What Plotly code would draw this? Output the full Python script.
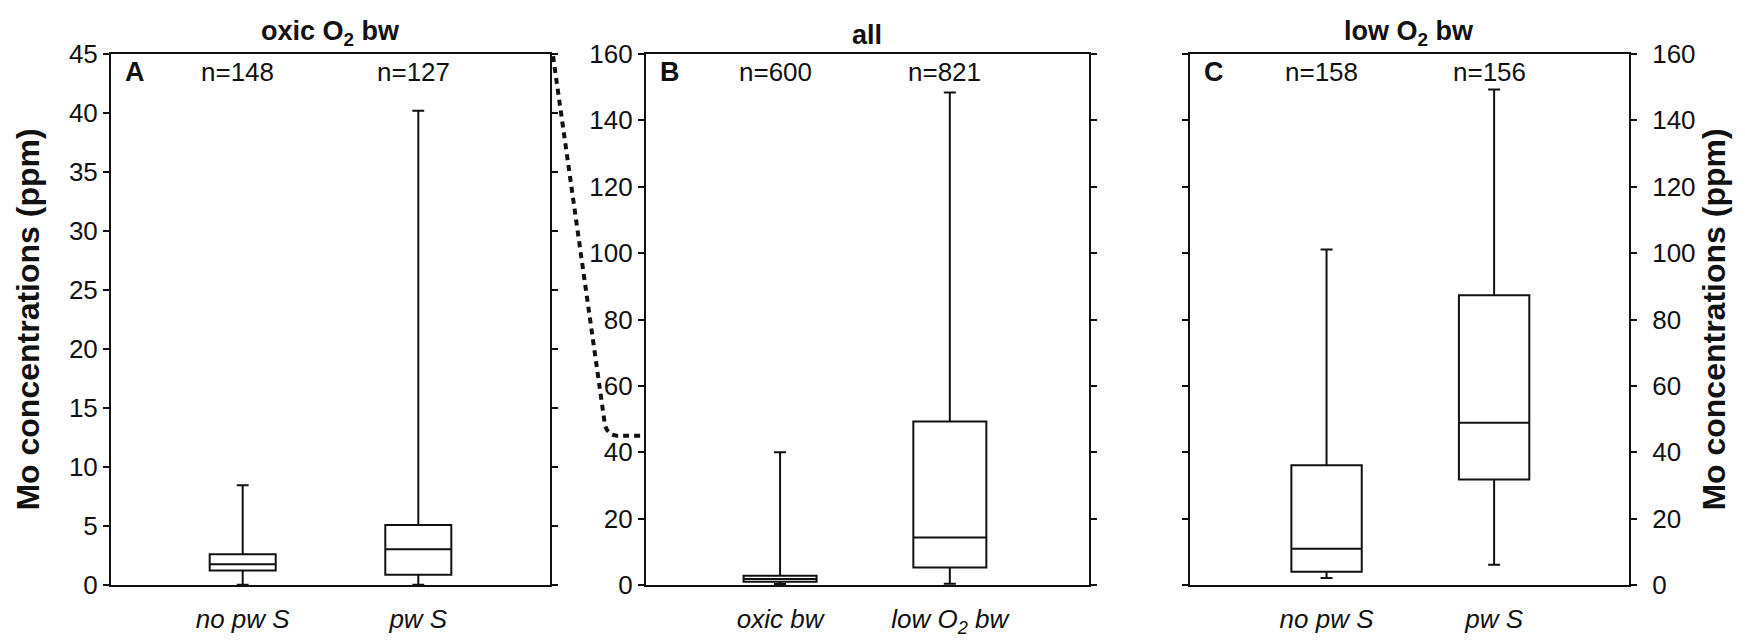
import plotly.graph_objects as go

# ---------------- data ----------------
cats_A = ["no pw S", "pw S"]
n_A = ["n=148", "n=127"]
lo_A = [0.02, 0.02]
q1_A = [1.22, 0.87]
med_A = [1.75, 3.03]
q3_A = [2.6, 5.08]
hi_A = [8.45, 40.2]

cats_B = ["oxic bw", "low O<sub>2</sub> bw"]
n_B = ["n=600", "n=821"]
lo_B = [0.3, 0.4]
q1_B = [1.0, 5.3]
med_B = [1.8, 14.3]
q3_B = [2.8, 49.3]
hi_B = [40.0, 148.4]

cats_C = ["no pw S", "pw S"]
n_C = ["n=158", "n=156"]
lo_C = [2.1, 6.1]
q1_C = [4.0, 31.8]
med_C = [10.9, 48.9]
q3_C = [36.1, 87.3]
hi_C = [101.1, 149.3]

titles = ["oxic O<sub>2</sub> bw", "all", "low O<sub>2</sub> bw"]
panel_letters = ["A", "B", "C"]
y_title = "Mo concentrations (ppm)"

FONT = "Liberation Sans, Arial, Helvetica, sans-serif"
INK = "#111111"

panels = [
    dict(c=cats_A, n=n_A, lo=lo_A, q1=q1_A, med=med_A, q3=q3_A, hi=hi_A,
         xa="x", ya="y", width=0.376, ww=0.18),
    dict(c=cats_B, n=n_B, lo=lo_B, q1=q1_B, med=med_B, q3=q3_B, hi=hi_B,
         xa="x2", ya="y2", width=0.43, ww=0.165),
    dict(c=cats_C, n=n_C, lo=lo_C, q1=q1_C, med=med_C, q3=q3_C, hi=hi_C,
         xa="x3", ya="y3", width=0.42, ww=0.17),
]

fig = go.Figure()
for p in panels:
    fig.add_trace(go.Box(
        x=p["c"], q1=p["q1"], median=p["med"], q3=p["q3"],
        lowerfence=p["lo"], upperfence=p["hi"],
        xaxis=p["xa"], yaxis=p["ya"], width=p["width"], whiskerwidth=p["ww"],
        fillcolor="white", line=dict(color=INK, width=2),
        boxpoints=False, showlegend=False, hoverinfo="skip",
    ))

x_domains = [[0.0, 0.2892], [0.3524, 0.6443], [0.7108, 1.0]]
x_ranges = [[-0.75, 1.75], [-0.79, 1.82], [-0.815, 1.805]]
y_ranges = [[0, 45], [0, 160], [0, 160]]
y_dticks = [5, 20, 20]

layout = dict(
    width=1745, height=642,
    margin=dict(l=103, r=124, t=46, b=56),
    paper_bgcolor="white", plot_bgcolor="white",
    font=dict(family=FONT, color=INK, size=26),
    showlegend=False,
)

for i in range(3):
    sx = "" if i == 0 else str(i + 1)
    layout["xaxis" + sx] = dict(
        domain=x_domains[i], range=x_ranges[i], type="category",
        anchor="y" + sx, showline=True, linecolor=INK, linewidth=2,
        mirror=True, ticks="", showgrid=False, zeroline=False,
        tickfont=dict(size=26, style="italic", family=FONT, color=INK),
        ticklabelstandoff=10,
    )
    ya = dict(
        domain=[0, 1], range=y_ranges[i], dtick=y_dticks[i], tick0=0,
        anchor="x" + sx, showline=True, linecolor=INK, linewidth=2,
        mirror="allticks", ticks="outside", ticklen=6, tickwidth=2,
        tickcolor=INK, showgrid=False, zeroline=False,
        tickfont=dict(size=26, family=FONT, color=INK),
    )
    if i == 0:
        ya["title"] = dict(text="<b>" + y_title + "</b>",
                           font=dict(size=32, family=FONT, color=INK), standoff=20)
    if i == 2:
        ya["side"] = "right"
        ya["ticklabelstandoff"] = 10
        ya["title"] = dict(text="<b>" + y_title + "</b>",
                           font=dict(size=32, family=FONT, color=INK), standoff=5)
    layout["yaxis" + sx] = ya

fig.update_layout(**layout)

# titles, panel letters, n labels
for i, p in enumerate(panels):
    sx = "" if i == 0 else str(i + 1)
    fig.add_annotation(
        text="<b>" + titles[i] + "</b>", xref="x" + sx + " domain", yref="y" + sx + " domain",
        x=0.5, y=1, xanchor="center", yanchor="bottom", yshift=2, showarrow=False,
        font=dict(size=27, family=FONT, color=INK),
    )
    fig.add_annotation(
        text="<b>" + panel_letters[i] + "</b>", xref="x" + sx + " domain", yref="y" + sx + " domain",
        x=0.028, y=0.967, xanchor="left", yanchor="middle", showarrow=False,
        font=dict(size=27, family=FONT, color=INK),
    )
    for c, nt in zip(p["c"], p["n"]):
        fig.add_annotation(
            text=nt, xref="x" + sx, yref="y" + sx + " domain",
            x=c, y=0.967, xanchor="center", yanchor="middle", xshift=-5, showarrow=False,
            font=dict(size=26, family=FONT, color=INK),
        )

# dotted connector: panel A top (45) -> same level (45) on panel B
a_right = x_domains[0][1]
b_left = x_domains[1][0]
y45_B = 45 / y_ranges[1][1]
corner_x = b_left - 0.025
path = (f"M {a_right + 0.002},{1 - 0.004} L {corner_x - 0.002},{y45_B + 0.02} "
        f"Q {corner_x},{y45_B} {corner_x + 0.006},{y45_B} L {b_left - 0.003},{y45_B}")
fig.add_shape(type="path", path=path, xref="paper", yref="paper",
              line=dict(color=INK, width=4, dash="6px,5px"))

fig.write_html("out.html")
